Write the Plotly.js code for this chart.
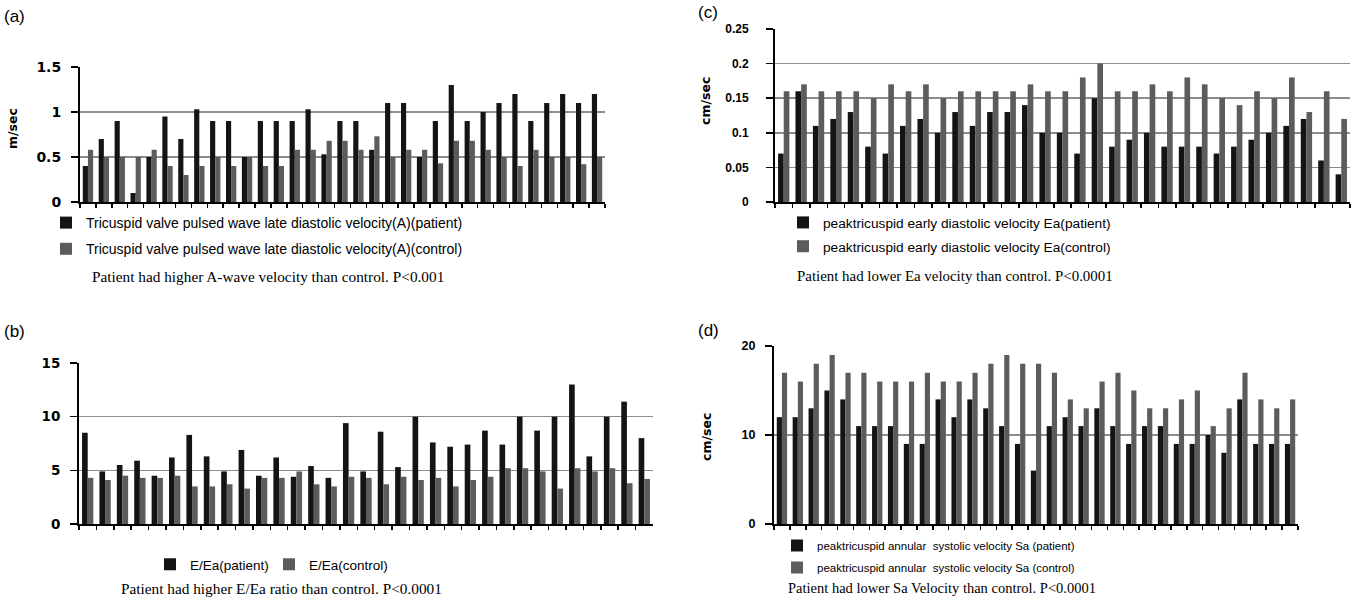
<!DOCTYPE html>
<html>
<head>
<meta charset="utf-8">
<script src="https://cdn.plot.ly/plotly-3.0.1.min.js"></script>
<style>html,body{margin:0;padding:0;background:#fff;}#chart{width:1353px;height:606px;}</style>
</head>
<body>
<div id="chart"></div>
<script>
// ---- data ----
const cases = ["1","2","3","4","5","6","7","8","9","10","11","12","13","14","15","16","17",
               "18","19","20","21","22","23","24","25","26","27","28","29","30","31","32","33"];

// (a) Tricuspid A-wave velocity, m/sec
const aPatient = [0.4,0.7,0.9,0.1,0.5,0.95,0.7,1.03,0.9,0.9,0.5,0.9,0.9,0.9,1.03,0.53,0.9,
                  0.9,0.58,1.1,1.1,0.5,0.9,1.3,0.9,1.0,1.1,1.2,0.9,1.1,1.2,1.1,1.2];
const aControl = [0.58,0.5,0.5,0.5,0.58,0.4,0.3,0.4,0.5,0.4,0.5,0.4,0.4,0.58,0.58,0.68,0.68,
                  0.58,0.73,0.5,0.58,0.58,0.43,0.68,0.68,0.58,0.5,0.4,0.58,0.5,0.5,0.42,0.5];

// (b) E/Ea ratio
const bPatient = [8.5,4.9,5.5,5.9,4.5,6.2,8.3,6.3,4.9,6.9,4.5,6.2,4.4,5.4,4.3,9.4,4.9,
                  8.6,5.3,10,7.6,7.2,7.4,8.7,7.4,10,8.7,10,13,6.3,10,11.4,8.0];
const bControl = [4.3,4.1,4.5,4.3,4.3,4.5,3.5,3.5,3.7,3.3,4.3,4.3,4.9,3.7,3.5,4.4,4.3,
                  3.7,4.4,4.1,4.3,3.5,4.1,4.4,5.2,5.2,4.9,3.3,5.2,4.9,5.2,3.8,4.2];

// (c) peak tricuspid early diastolic velocity Ea, cm/sec
const cPatient = [0.07,0.16,0.11,0.12,0.13,0.08,0.07,0.11,0.12,0.10,0.13,0.11,0.13,0.13,0.14,0.10,0.10,
                  0.07,0.15,0.08,0.09,0.10,0.08,0.08,0.08,0.07,0.08,0.09,0.10,0.11,0.12,0.06,0.04];
const cControl = [0.16,0.17,0.16,0.16,0.16,0.15,0.17,0.16,0.17,0.15,0.16,0.16,0.16,0.16,0.17,0.16,0.16,
                  0.18,0.20,0.16,0.16,0.17,0.16,0.18,0.17,0.15,0.14,0.16,0.15,0.18,0.13,0.16,0.12];

// (d) peak tricuspid annular systolic velocity Sa, cm/sec
const dPatient = [12,12,13,15,14,11,11,11,9,9,14,12,14,13,11,9,6,
                  11,12,11,13,11,9,11,11,9,9,10,8,14,9,9,9];
const dControl = [17,16,18,19,17,17,16,16,16,17,16,16,17,18,19,18,18,
                  17,14,13,16,17,15,13,13,14,15,11,13,17,14,13,14];

const names = {
  a: ["Tricuspid valve pulsed wave late diastolic velocity(A)(patient)",
      "Tricuspid valve pulsed wave late diastolic velocity(A)(control)"],
  b: ["E/Ea(patient)", "E/Ea(control)"],
  c: ["peaktricuspid early diastolic velocity Ea(patient)",
      "peaktricuspid early diastolic velocity Ea(control)"],
  d: ["peaktricuspid annular  systolic velocity Sa (patient)",
      "peaktricuspid annular  systolic velocity Sa (control)"]
};
const captions = {
  a: "Patient had higher A-wave velocity than control. P<0.001",
  b: "Patient had higher E/Ea ratio than control. P<0.0001",
  c: "Patient had lower Ea velocity than control. P<0.0001",
  d: "Patient had lower Sa Velocity than control. P<0.0001"
};

// ---- layout helpers (pixel -> paper) ----
const W = 1353, H = 606;
const px = v => v / W;
const py = v => 1 - v / H;

const PAT = "#141414", CON = "#5c5c5c";

function pair(xa, ya, leg, pat, con, nm) {
  return [
    {type:"bar", x:cases, y:pat, name:nm[0], xaxis:xa, yaxis:ya, legend:leg,
     legendgroup:leg + "p", marker:{color:PAT}, hoverinfo:"y"},
    {type:"bar", x:cases, y:con, name:nm[1], xaxis:xa, yaxis:ya, legend:leg,
     legendgroup:leg + "c", marker:{color:CON}, hoverinfo:"y"}
  ];
}

const data = [
  ...pair("x",  "y",  "legend",  aPatient, aControl, names.a),
  ...pair("x2", "y2", "legend2", bPatient, bControl, names.b),
  ...pair("x3", "y3", "legend3", cPatient, cControl, names.c),
  ...pair("x4", "y4", "legend4", dPatient, dControl, names.d)
];

function xax(x0, x1, anchor) {
  return {domain:[px(x0), px(x1)], anchor:anchor, type:"category",
    showline:true, linecolor:"#000", linewidth:2,
    ticks:"outside", ticklen:4, tickcolor:"#000", tickwidth:1.5,
    tickson:"boundaries", tickmode:"array", tickvals:cases,
    showticklabels:false, showgrid:false, zeroline:false, fixedrange:true};
}
function yax(y0, y1, anchor, range, dtick, font, standoff) {
  return {domain:[py(y0), py(y1)], anchor:anchor, range:range, dtick:dtick, tick0:0,
    showline:true, linecolor:"#000", linewidth:2,
    ticks:"outside", ticklen:7, tickcolor:"#000", tickwidth:1.5,
    showgrid:true, gridcolor:"#8c8c8c", gridwidth:1.5, zeroline:false,
    tickfont:font, ticklabelstandoff:standoff, fixedrange:true};
}
const wideBold = s => ({family:"DejaVu Sans", size:s, color:"#000", weight:"bold"});
const narrowBold = s => ({family:"Liberation Sans", size:s, color:"#000", weight:"bold"});

function legendAt(x, y, size, gap, orient, entry) {
  const l = {x:px(x), y:py(y), xanchor:"left", yanchor:"top", orientation:orient||"v",
    bgcolor:"rgba(0,0,0,0)", borderwidth:0, tracegroupgap:gap,
    font:{family:"Liberation Sans", size:size, color:"#000"}};
  if (entry) { l.entrywidth = entry; l.entrywidthmode = "pixels"; }
  return l;
}

function ann(text, x, y, font, extra) {
  return Object.assign({text:text, x:px(x), y:py(y), xref:"paper", yref:"paper",
    showarrow:false, font:font, xanchor:"center", yanchor:"middle"}, extra||{});
}
const serif = s => ({family:"Liberation Serif", size:s, color:"#000"});
const label = {family:"Liberation Sans", size:17, color:"#000"};
const ytitle = {family:"DejaVu Sans", size:12.5, color:"#000", weight:"bold"};

const layout = {
  width:W, height:H, margin:{l:0, r:0, t:0, b:0},
  paper_bgcolor:"#fff", plot_bgcolor:"#fff",
  barmode:"group", bargap:0.35, bargroupgap:0,
  xaxis:  xax(80, 605, "y"),
  yaxis:  yax(202, 67, "x",  [0, 1.5], 0.5, wideBold(14), 7),
  xaxis2: xax(79, 653, "y2"),
  yaxis2: yax(524, 363, "x2", [0, 15], 5, wideBold(13.5), 7),
  xaxis3: xax(775, 1350, "y3"),
  yaxis3: yax(202, 29, "x3", [0, 0.25], 0.05, narrowBold(12), 15),
  xaxis4: xax(774, 1298, "y4"),
  yaxis4: yax(524, 346, "x4", [0, 20], 10, narrowBold(12.5), 7),
  legend:  legendAt(46, 207, 14, 5),
  legend2: legendAt(150, 549, 13.5, 0, "h", 74),
  legend3: legendAt(783, 207, 13.7, 3),
  legend4: legendAt(777, 531, 11.5, 3),
  annotations: [
    ann("(a)", 14, 17, label),
    ann("(b)", 14, 331, label),
    ann("(c)", 708, 13, label),
    ann("(d)", 708, 330, label),
    ann("m/sec", 13, 129, ytitle, {textangle:-90}),
    ann("cm/sec", 706, 101, ytitle, {textangle:-90}),
    ann("cm/sec", 706, 437, ytitle, {textangle:-90}),
    ann(captions.a, 268, 276, serif(15.3)),
    ann(captions.b, 281, 588, serif(15.3)),
    ann(captions.c, 955, 276, serif(14.9)),
    ann(captions.d, 942, 588, serif(14.5))
  ]
};

Plotly.newPlot("chart", data, layout, {staticPlot:true, displayModeBar:false});
</script>
</body>
</html>
